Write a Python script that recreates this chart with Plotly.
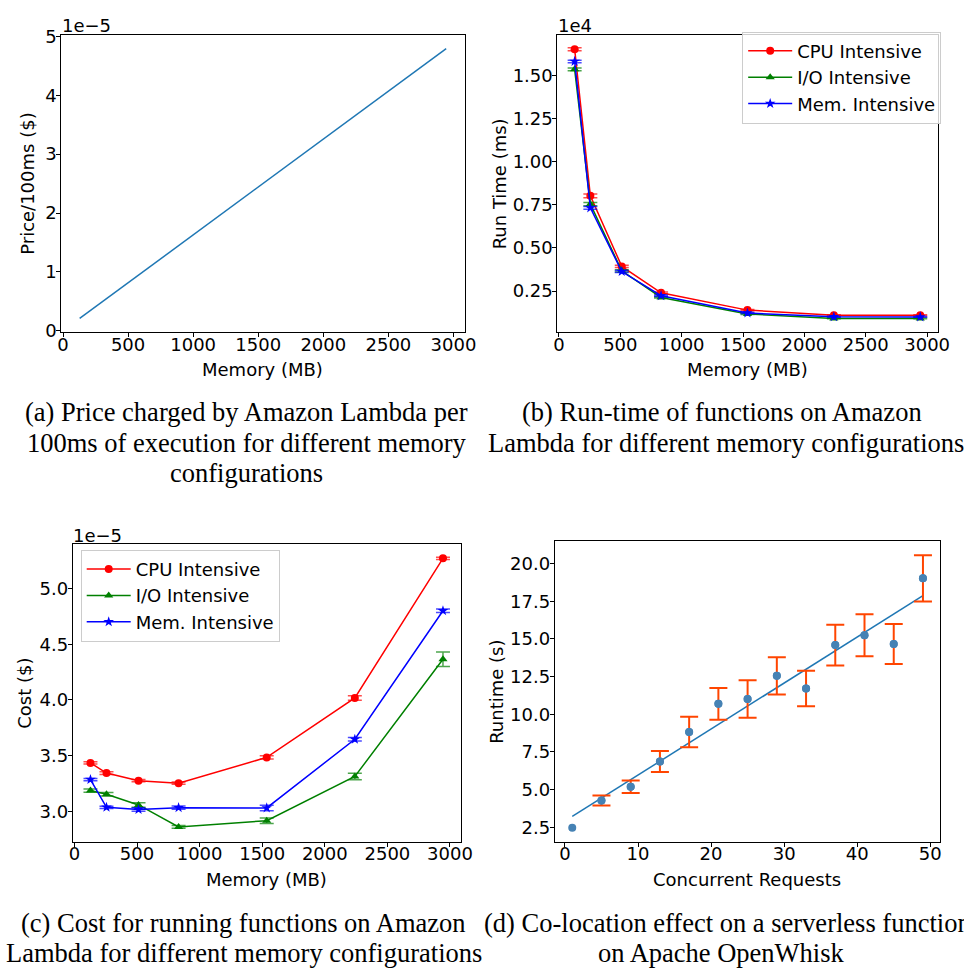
import numpy as np
import plotly.graph_objects as go

W, H = 964, 976

# ---- data -------------------------------------------------------------
memory_mb = [128, 256, 512, 832, 1536, 2240, 2944]

# (a) price per 100 ms of execution ($)
price_per_100ms = [2.08e-6, 4.17e-6, 8.34e-6, 1.354e-5, 2.501e-5, 3.647e-5, 4.793e-5]

# (b) run time (ms)
runtime_cpu = [16520, 8020, 3930, 2400, 1395, 1100, 1100]
runtime_cpu_err = [90, 110, 70, 50, 30, 25, 25]
runtime_io = [15350, 7540, 3670, 2130, 1168, 915, 912]
runtime_io_err = [80, 90, 60, 40, 25, 20, 20]
runtime_mem = [15810, 7320, 3630, 2230, 1225, 1005, 1002]
runtime_mem_err = [70, 80, 60, 40, 25, 20, 20]

# (c) cost ($)
cost_cpu = [3.436e-5, 3.345e-5, 3.277e-5, 3.254e-5, 3.485e-5, 4.018e-5, 5.270e-5]
cost_cpu_err = [0.010e-5, 0.012e-5, 0.010e-5, 0.010e-5, 0.015e-5, 0.020e-5, 0.010e-5]
cost_io = [3.188e-5, 3.155e-5, 3.059e-5, 2.862e-5, 2.918e-5, 3.314e-5, 4.365e-5]
cost_io_err = [0.015e-5, 0.015e-5, 0.020e-5, 0.012e-5, 0.025e-5, 0.030e-5, 0.065e-5]
cost_mem = [3.287e-5, 3.038e-5, 3.018e-5, 3.035e-5, 3.032e-5, 3.648e-5, 4.800e-5]
cost_mem_err = [0.010e-5, 0.010e-5, 0.015e-5, 0.015e-5, 0.025e-5, 0.015e-5, 0.015e-5]

# (d) OpenWhisk co-location (no spread recorded for a single request)
concurrent_requests = [1, 5, 9, 13, 17, 21, 25, 29, 33, 37, 41, 45, 49]
runtime_s = [2.46, 4.28, 5.19, 6.86, 8.82, 10.69, 11.01, 12.55, 11.71, 14.59, 15.24, 14.66, 19.02]
runtime_s_err = [None, 0.33, 0.42, 0.70, 1.01, 1.06, 1.24, 1.24, 1.17, 1.35, 1.39, 1.33, 1.54]

series_names = ["CPU Intensive", "I/O Intensive", "Mem. Intensive"]
series_colors = ["#ff0000", "#008000", "#0000ff"]
series_err_colors = ["rgba(255,0,0,0.7)", "rgba(0,128,0,0.7)", "rgba(0,0,255,0.7)"]
series_symbols = ["circle", "triangle-up", "star"]
series_sizes = [8, 8, 8]

mem_ticks = [0, 500, 1000, 1500, 2000, 2500, 3000]

# ---- layout helpers -----------------------------------------------------
SANS = "DejaVu Sans"
SERIF = "Liberation Serif"
FS = 18


def px_x(p):
    return p / W


def px_y(p):
    return 1 - p / H


def axis(domain, rng, anchor, standoff, **kw):
    d = dict(
        domain=domain, range=rng, anchor=anchor,
        showline=True, mirror=True, linecolor="#000", linewidth=1,
        ticks="outside", ticklen=4, tickwidth=1, tickcolor="#000",
        ticklabelstandoff=standoff,
        showgrid=False, zeroline=False,
        tickfont=dict(family=SANS, size=FS, color="#000"),
    )
    d.update(kw)
    return d


# panel boxes in pixels: (left, right, top, bottom)
box_a = (58.3, 468.3, 26.7, 329.0)
box_b = (562.7, 949.3, 26.0, 329.0)
box_c = (70.0, 464.3, 545.3, 848.3)
box_d = (560.0, 952.3, 542.3, 848.3)


def dom(box):
    l, r, t, b = box
    return [px_x(l), px_x(r)], [px_y(b), px_y(t)]


fig = go.Figure()

# (a) price line
fig.add_trace(go.Scatter(
    x=memory_mb, y=price_per_100ms, mode="lines",
    line=dict(color="#1f77b4", width=1.5),
    xaxis="x", yaxis="y", showlegend=False,
))

# (b) run time with error bars
for name, ys, es, col, ecol, sym, sz in zip(
        series_names, [runtime_cpu, runtime_io, runtime_mem],
        [runtime_cpu_err, runtime_io_err, runtime_mem_err],
        series_colors, series_err_colors, series_symbols, series_sizes):
    fig.add_trace(go.Scatter(
        x=memory_mb, y=ys, name=name, mode="lines+markers",
        line=dict(color=col, width=1.5),
        marker=dict(color=col, symbol=sym, size=sz, line=dict(width=0)),
        error_y=dict(type="data", array=es, visible=True, color=ecol,
                     thickness=1.5, width=7),
        xaxis="x2", yaxis="y2", legend="legend",
    ))

# (c) cost with error bars
for name, ys, es, col, ecol, sym, sz in zip(
        series_names, [cost_cpu, cost_io, cost_mem],
        [cost_cpu_err, cost_io_err, cost_mem_err],
        series_colors, series_err_colors, series_symbols, series_sizes):
    fig.add_trace(go.Scatter(
        x=memory_mb, y=ys, name=name, mode="lines+markers",
        line=dict(color=col, width=1.5),
        marker=dict(color=col, symbol=sym, size=sz, line=dict(width=0)),
        error_y=dict(type="data", array=es, visible=True, color=ecol,
                     thickness=1.5, width=7),
        xaxis="x3", yaxis="y3", legend="legend2",
    ))

# (d) least-squares trend line, error bars where a spread exists, then points
slope, intercept = np.polyfit(concurrent_requests, runtime_s, 1)
fit_x = np.array([concurrent_requests[0], concurrent_requests[-1]])
fig.add_trace(go.Scatter(
    x=fit_x, y=slope * fit_x + intercept, mode="lines",
    line=dict(color="#1f77b4", width=1.5),
    xaxis="x4", yaxis="y4", showlegend=False,
))
with_err = [i for i, e in enumerate(runtime_s_err) if e is not None]
fig.add_trace(go.Scatter(
    x=[concurrent_requests[i] for i in with_err],
    y=[runtime_s[i] for i in with_err],
    mode="markers",
    marker=dict(color="#4682b4", size=8),
    error_y=dict(type="data", array=[runtime_s_err[i] for i in with_err],
                 visible=True, color="#ff4500", thickness=2, width=9),
    xaxis="x4", yaxis="y4", showlegend=False,
))
fig.add_trace(go.Scatter(
    x=concurrent_requests, y=runtime_s, mode="markers",
    marker=dict(color="#4682b4", size=8),
    xaxis="x4", yaxis="y4", showlegend=False,
))

xa, ya = dom(box_a)
xb, yb = dom(box_b)
xc, yc = dom(box_c)
xd, yd = dom(box_d)

XS, YS = -8, -4

legend_style = dict(
    bgcolor="rgba(255,255,255,0.8)", bordercolor="#cccccc", borderwidth=1,
    font=dict(family=SANS, size=FS, color="#000"), itemwidth=44,
)

layout = dict(
    width=W, height=H, autosize=False,
    margin=dict(l=0, r=0, t=0, b=0),
    paper_bgcolor="white", plot_bgcolor="white",
    font=dict(family=SANS, size=FS, color="#000"),
    xaxis=axis(xa, [-12.8, 3084.8], "y", XS, tickvals=mem_ticks),
    yaxis=axis(ya, [-0.021e-5, 5.022e-5], "x", YS,
               tickvals=[0, 1e-5, 2e-5, 3e-5, 4e-5, 5e-5],
               ticktext=["0", "1", "2", "3", "4", "5"]),
    xaxis2=axis(xb, [-12.8, 3084.8], "y2", XS, tickvals=mem_ticks),
    yaxis2=axis(yb, [130, 17370], "x2", YS,
                tickvals=[2500, 5000, 7500, 10000, 12500, 15000],
                ticktext=["0.25", "0.50", "0.75", "1.00", "1.25", "1.50"]),
    xaxis3=axis(xc, [-12.8, 3084.8], "y3", XS, tickvals=mem_ticks),
    yaxis3=axis(yc, [2.73e-5, 5.396e-5], "x3", YS,
                tickvals=[3.0e-5, 3.5e-5, 4.0e-5, 4.5e-5, 5.0e-5],
                ticktext=["3.0", "3.5", "4.0", "4.5", "5.0"]),
    xaxis4=axis(xd, [-1.4, 51.4], "y4", XS, tickvals=[0, 10, 20, 30, 40, 50]),
    yaxis4=axis(yd, [1.545, 21.48], "x4", YS,
                tickvals=[2.5, 5.0, 7.5, 10.0, 12.5, 15.0, 17.5, 20.0],
                ticktext=["2.5", "5.0", "7.5", "10.0", "12.5", "15.0", "17.5", "20.0"]),
    legend=dict(x=px_x(953), y=px_y(23), xanchor="right", yanchor="top",
                **legend_style),
    legend2=dict(x=px_x(78), y=px_y(551), xanchor="left", yanchor="top",
                 **legend_style),
)
fig.update_layout(**layout)

annotations = []


def text_at(x, y, txt, size=FS, family=SANS, angle=0, xanchor="center"):
    annotations.append(dict(
        x=px_x(x), y=px_y(y), xref="paper", yref="paper",
        text=txt, showarrow=False, textangle=angle,
        xanchor=xanchor, yanchor="middle",
        font=dict(family=family, size=size, color="#000"),
    ))


# axis titles
text_at(263, 367, "Memory (MB)")
text_at(24.5, 178, "Price/100ms ($)", angle=-90)
text_at(756, 367, "Memory (MB)")
text_at(504, 178, "Run Time (ms)", angle=-90)
text_at(267, 887, "Memory (MB)")
text_at(20, 697, "Cost ($)", angle=-90)
text_at(756, 887, "Concurrent Requests")
text_at(500, 696, "Runtime (s)", angle=-90)

# scale factors shown above the value axes
text_at(57, 16.5, "1e\u22125", xanchor="left")
text_at(561, 16.5, "1e4", xanchor="left")
text_at(68, 536.5, "1e\u22125", xanchor="left")

# sub-figure captions
CAP = 26.5
text_at(247, 411, "(a) Price charged by Amazon Lambda per", size=CAP, family=SERIF)
text_at(247, 442, "100ms of execution for different memory", size=CAP, family=SERIF)
text_at(247, 473, "configurations", size=CAP, family=SERIF)
text_at(730, 411, "(b) Run-time of functions on Amazon", size=CAP, family=SERIF)
text_at(734, 442, "Lambda for different memory configurations", size=CAP, family=SERIF)
text_at(244, 931, "(c) Cost for running functions on Amazon", size=CAP, family=SERIF)
text_at(244, 962, "Lambda for different memory configurations", size=CAP, family=SERIF)
text_at(736, 931, "(d) Co-location effect on a serverless function", size=CAP, family=SERIF)
text_at(730, 962, "on Apache OpenWhisk", size=CAP, family=SERIF)

fig.update_layout(annotations=annotations)

fig.write_html("out.html")
